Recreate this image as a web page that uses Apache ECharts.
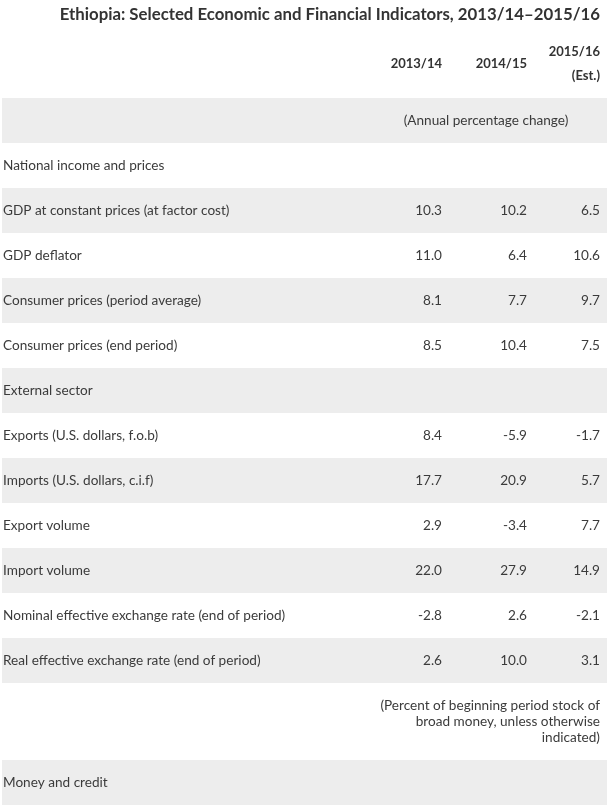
<!DOCTYPE html>
<html><head><meta charset="utf-8">
<script src="https://cdn.jsdelivr.net/npm/echarts@6/dist/echarts.min.js"></script>
<style>html,body{margin:0;padding:0;background:#fff}#c{width:610px;height:807px}</style>
</head><body><div id="c"></div><script>
const titleText = 'Ethiopia: Selected Economic and Financial Indicators, 2013/14\u20132015/16';
const yearLabels = ['2013/14', '2014/15', '2015/16'];
const yearNotes = ['', '', '(Est.)'];
const rowLabels = [
  '', 'National income and prices', 'GDP at constant prices (at factor cost)', 'GDP deflator',
  'Consumer prices (period average)', 'Consumer prices (end period)', 'External sector',
  'Exports (U.S. dollars, f.o.b)', 'Imports (U.S. dollars, c.i.f)', 'Export volume', 'Import volume',
  'Nominal effective exchange rate (end of period)', 'Real effective exchange rate (end of period)',
  '', 'Money and credit'
];
const rowNotes = [
  '(Annual percentage change)', '', '', '', '', '', '', '', '', '', '', '', '',
  '(Percent of beginning period stock of\nbroad money, unless otherwise\nindicated)', ''
];
const values2013 = [null, null, 10.3, 11.0, 8.1, 8.5, null, 8.4, 17.7, 2.9, 22.0, -2.8, 2.6, null, null];
const values2014 = [null, null, 10.2, 6.4, 7.7, 10.4, null, -5.9, 20.9, -3.4, 27.9, 2.6, 10.0, null, null];
const values2015 = [null, null, 6.5, 10.6, 9.7, 7.5, null, -1.7, 5.7, 7.7, 14.9, -2.1, 3.1, null, null];

// ---- layout (styles) ----
const W = 610, H = 807;
const FONT = 'Lato';
const BODY = '13.6px ' + FONT;
const TXT = '#3b3b3b';
const GRAY = '#ededed';
const TABLE_L = 2, TABLE_R = 607;
const HEADER_H = 98;
const COL_RIGHT = [442, 527, 600];
const NOTE_RIGHT = 600;
const NOTE_CENTER = 486;
const LABEL_X = 3;
const LINE_H = 16, ROW_PAD = 29;
const valueCols = [values2013, values2014, values2015];

// build row extents from content
const data = [];
let y = HEADER_H;
for (let i = 0; i < rowLabels.length; i++) {
  const lines = rowNotes[i] ? rowNotes[i].split('\n').length : 1;
  const h = ROW_PAD + LINE_H * lines;
  data.push([TABLE_L, y, TABLE_R, y + h, i]);
  y += h;
}
const headerData = [[TABLE_L, 0, TABLE_R, HEADER_H, -1]];

function fmt(v) { return v == null ? '' : v.toFixed(1); }

function renderRow(params, api) {
  const i = api.value(4);
  const p0 = api.coord([api.value(0), api.value(1)]);
  const p1 = api.coord([api.value(2), api.value(3)]);
  const cy = (p0[1] + p1[1]) / 2;
  const ch = [];
  if (i % 2 === 0) {
    ch.push({ type: 'rect', shape: { x: p0[0], y: p0[1], width: p1[0] - p0[0], height: p1[1] - p0[1] }, style: { fill: GRAY } });
  }
  if (rowLabels[i]) {
    ch.push({ type: 'text', style: { x: api.coord([LABEL_X, 0])[0], y: cy, text: rowLabels[i], fill: TXT, font: BODY, align: 'left', verticalAlign: 'middle' } });
  }
  if (rowNotes[i]) {
    const multi = rowNotes[i].indexOf('\n') >= 0;
    const x = api.coord([multi ? NOTE_RIGHT : NOTE_CENTER, 0])[0];
    ch.push({ type: 'text', style: { x: x, y: cy, text: rowNotes[i], fill: TXT, font: BODY, lineHeight: LINE_H, align: multi ? 'right' : 'center', verticalAlign: 'middle' } });
  }
  valueCols.forEach(function (col, j) {
    if (col[i] != null) {
      ch.push({ type: 'text', style: { x: api.coord([COL_RIGHT[j], 0])[0], y: cy, text: fmt(col[i]), fill: TXT, font: BODY, align: 'right', verticalAlign: 'middle' } });
    }
  });
  return { type: 'group', children: ch };
}

function renderHeader(params, api) {
  const p1 = api.coord([api.value(2), api.value(3)]);
  const ch = [];
  yearLabels.forEach(function (lab, j) {
    const x = api.coord([COL_RIGHT[j], 0])[0];
    const txt = yearNotes[j] ? lab + '\n' + yearNotes[j] : lab;
    ch.push({ type: 'text', style: { x: x, y: p1[1] - 34.5, text: txt, fill: '#333', font: 'bold 13px ' + FONT, lineHeight: 24, align: 'right', verticalAlign: 'middle' } });
  });
  return { type: 'group', children: ch };
}

const chart = echarts.init(document.getElementById('c'), null, { renderer: 'canvas' });
chart.setOption({
  animation: false,
  backgroundColor: '#fff',
  title: {
    text: titleText, right: 5, top: 1,
    textStyle: { fontFamily: FONT, fontWeight: 'bold', fontSize: 16.8, color: '#333' }
  },
  grid: { left: 0, right: 0, top: 0, bottom: 0 },
  xAxis: { type: 'value', min: 0, max: W, show: false },
  yAxis: { type: 'value', min: 0, max: H, inverse: true, show: false },
  series: [
    { type: 'custom', renderItem: renderRow, data: data, silent: true, clip: false },
    { type: 'custom', renderItem: renderHeader, data: headerData, silent: true, clip: false }
  ]
});
</script></body></html>
